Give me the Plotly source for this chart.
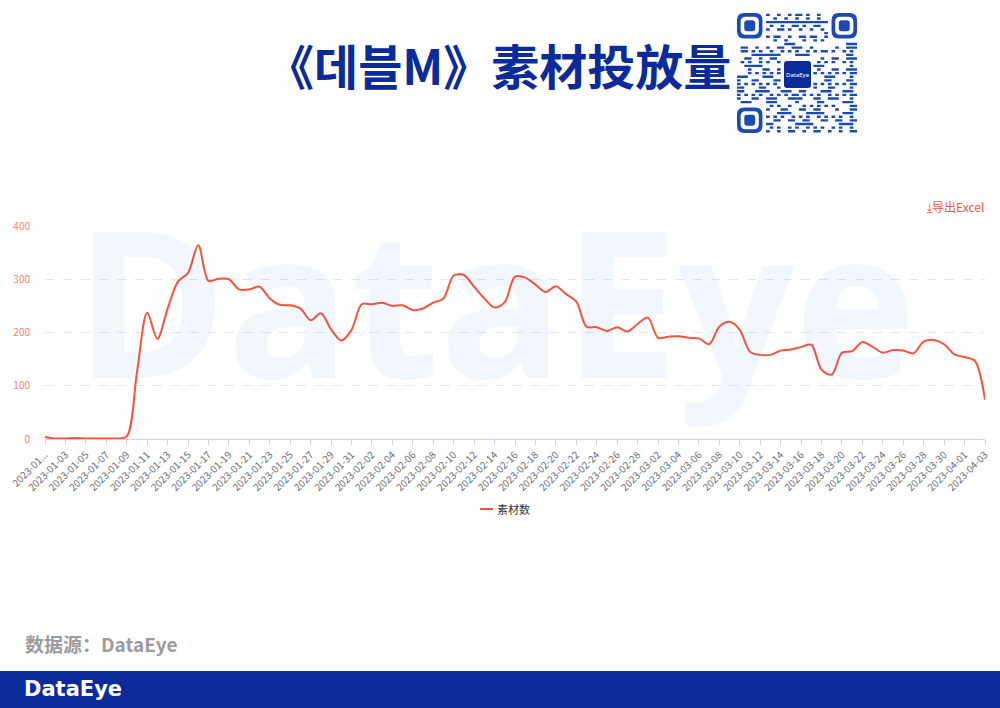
import plotly.graph_objects as go
import pandas as pd

# ---------------- data ----------------
dates = [d.strftime("%Y-%m-%d") for d in pd.date_range("2023-01-01", "2023-04-03", freq="D")]
values = [4, 1, 1, 2, 1, 1, 1, 1, 5, 125,
          237, 188, 245, 295, 312, 364, 297, 301, 300, 281,
          281, 286, 264, 252, 251, 245, 223, 236, 206, 185,
          205, 253, 253, 256, 250, 251, 242, 245, 256, 264,
          307, 308, 286, 264, 247, 257, 305, 303, 290, 276,
          287, 272, 258, 211, 210, 203, 210, 202, 216, 228,
          190, 192, 193, 190, 189, 178, 211, 220, 205, 164,
          158, 158, 166, 168, 173, 177, 130, 121, 162, 165,
          182, 173, 162, 167, 166, 161, 183, 186, 178, 159,
          154, 147, 74]
series_name = "素材数"
tick_dates = dates[::2]
tick_labels = ["2023-01..."] + tick_dates[1:]
y_ticks = [0, 100, 200, 300, 400]

# ---------------- geometry helpers ----------------
W, H = 1000, 708
ML, MR, MT, MB = 45, 15, 226, 269
PW, PH = W - ML - MR, H - MT - MB


def fx(p):
    return (p - ML) / PW


def fy(p):
    return (H - MB - p) / PH


CJK = "Noto Sans CJK SC, Noto Sans CJK KR, Noto Sans, sans-serif"
LINE_COLOR = "#f6543b"
BLUE = "#0b2b9b"
QR_BLUE = "#1b4ab2"

fig = go.Figure()
fig.add_trace(go.Scatter(
    x=dates, y=values, mode="lines", name=series_name,
    line=dict(color=LINE_COLOR, width=2, shape="spline", smoothing=0.9),
    showlegend=False))

shapes = []
annotations = []

# ---- watermark ----
annotations.append(dict(text="DataEye", xref="paper", yref="paper", x=fx(495), y=fy(440),
                        xanchor="center", yanchor="bottom", showarrow=False,
                        font=dict(size=205, color="rgba(40,120,220,0.06)",
                                  family="Open Sans, Noto Sans, sans-serif", weight=700)))

# ---- manual legend ----
shapes.append(dict(type="line", xref="paper", yref="paper",
                   x0=fx(480), x1=fx(493), y0=fy(509), y1=fy(509),
                   line=dict(color=LINE_COLOR, width=2)))
annotations.append(dict(text=series_name, xref="paper", yref="paper",
                        x=fx(495), y=fy(509), xanchor="left", yanchor="middle",
                        showarrow=False, font=dict(size=11, color="#333333", family=CJK)))

# ---- title ----
annotations.append(dict(text="<b>《데블M》素材投放量</b>", xref="paper", yref="paper",
                        x=fx(498), y=fy(64), xanchor="center", yanchor="middle",
                        showarrow=False, font=dict(size=48, color=BLUE, family=CJK)))

# ---- export link ----
annotations.append(dict(text="⤓导出Excel", xref="paper", yref="paper",
                        x=fx(986), y=fy(206), xanchor="right", yanchor="middle",
                        showarrow=False, font=dict(size=12, color="#f4573f", family=CJK)))

# ---- source ----
annotations.append(dict(text="<b>数据源：DataEye</b>", xref="paper", yref="paper",
                        x=fx(23), y=fy(643), xanchor="left", yanchor="middle",
                        showarrow=False, font=dict(size=19, color="#9b9b9b", family=CJK)))

# ---- bottom band ----
shapes.append(dict(type="rect", xref="paper", yref="paper", layer="above",
                   x0=fx(0), x1=fx(W), y0=fy(671), y1=fy(H),
                   fillcolor=BLUE, line=dict(width=0)))
annotations.append(dict(text="<b>DataEye</b>", xref="paper", yref="paper",
                        x=fx(22), y=fy(689), xanchor="left", yanchor="middle",
                        showarrow=False, font=dict(size=21, color="white", family="DejaVu Sans, sans-serif")))


# ---- QR-like decoration ----
def rrect_path(x0, y0, x1, y1, r):
    pts = []
    pts.append(f"M{fx(x0 + r)},{fy(y0)}")
    pts.append(f"L{fx(x1 - r)},{fy(y0)}")
    pts.append(f"Q{fx(x1)},{fy(y0)} {fx(x1)},{fy(y0 + r)}")
    pts.append(f"L{fx(x1)},{fy(y1 - r)}")
    pts.append(f"Q{fx(x1)},{fy(y1)} {fx(x1 - r)},{fy(y1)}")
    pts.append(f"L{fx(x0 + r)},{fy(y1)}")
    pts.append(f"Q{fx(x0)},{fy(y1)} {fx(x0)},{fy(y1 - r)}")
    pts.append(f"L{fx(x0)},{fy(y0 + r)}")
    pts.append(f"Q{fx(x0)},{fy(y0)} {fx(x0 + r)},{fy(y0)}Z")
    return " ".join(pts)


QX, QY, QS, N = 737, 13, 120, 33
m = QS / N
for (fr, fc) in [(0, 0), (0, N - 7), (N - 7, 0)]:
    x0, y0 = QX + fc * m, QY + fr * m
    shapes.append(dict(type="path", xref="paper", yref="paper", path=rrect_path(x0, y0, x0 + 7 * m, y0 + 7 * m, 2 * m),
                       fillcolor=QR_BLUE, line=dict(width=0)))
    shapes.append(dict(type="path", xref="paper", yref="paper",
                       path=rrect_path(x0 + m, y0 + m, x0 + 6 * m, y0 + 6 * m, 1.4 * m),
                       fillcolor="white", line=dict(width=0)))
    shapes.append(dict(type="path", xref="paper", yref="paper",
                       path=rrect_path(x0 + 2 * m, y0 + 2 * m, x0 + 5 * m, y0 + 5 * m, 0.8 * m),
                       fillcolor=QR_BLUE, line=dict(width=0)))


def in_reserved(r, c):
    if r < 8 and c < 8:
        return True
    if r < 8 and c >= N - 8:
        return True
    if r >= N - 8 and c < 8:
        return True
    if 12 <= r <= 20 and 12 <= c <= 20:
        return True
    return False


segs = []
for r in range(N):
    run_start = None
    for c in range(N + 1):
        on = False
        if c < N and not in_reserved(r, c):
            h = (r * 73 + c * 151 + r * c * 37 + (r ^ c) * 13) % 17
            on = h < 7
        if on and run_start is None:
            run_start = c
        if not on and run_start is not None:
            x0 = QX + run_start * m
            x1 = QX + c * m
            y0 = QY + r * m + 0.2 * m
            y1 = QY + r * m + 0.85 * m
            segs.append(f"M{fx(x0)},{fy(y0)}H{fx(x1)}V{fy(y1)}H{fx(x0)}Z")
            run_start = None
shapes.append(dict(type="path", xref="paper", yref="paper", path="".join(segs),
                   fillcolor=QR_BLUE, line=dict(width=0)))

# centre logo
shapes.append(dict(type="path", xref="paper", yref="paper",
                   path=rrect_path(784, 61, 811, 88, 3), fillcolor=BLUE, line=dict(width=0)))
annotations.append(dict(text="DataEye", xref="paper", yref="paper", x=fx(797.5), y=fy(74.5),
                        xanchor="center", yanchor="middle", showarrow=False,
                        font=dict(size=6, color="white", family="Noto Sans, sans-serif")))

fig.update_layout(
    width=W, height=H,
    margin=dict(l=ML, r=MR, t=MT, b=MB, autoexpand=False),
    paper_bgcolor="white", plot_bgcolor="white",
    font=dict(family=CJK),
    shapes=shapes, annotations=annotations,
    showlegend=False,
    xaxis=dict(type="date", range=[dates[0], dates[-1]],
               tickmode="array", tickvals=tick_dates, ticktext=tick_labels,
               tickangle=-45, ticks="outside", ticklen=5, tickcolor="#ccd6eb",
               showline=True, linecolor="#ccd6eb", linewidth=1, showgrid=False, zeroline=False,
               tickfont=dict(size=10, color="#6e7079", family=CJK)),
    yaxis=dict(range=[0, 400], tickmode="array", tickvals=y_ticks,
               showgrid=True, gridcolor="#e0e6f1", griddash="dash", gridwidth=1,
               zeroline=False, showline=False, ticks="",
               ticklabelstandoff=14,
               tickfont=dict(size=10, color="#f5846f", family=CJK)),
)

fig.write_html("out.html", config={"displayModeBar": False},
               post_script="document.body.style.margin='0';")
